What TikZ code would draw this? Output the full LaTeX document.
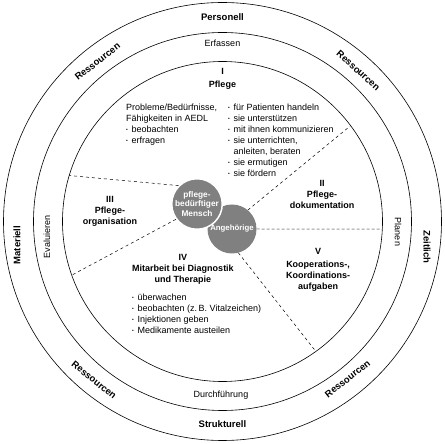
\documentclass[tikz,border=0pt]{standalone}
\usepackage{fontspec}
\setmainfont{Liberation Sans}
\usepackage{xcolor}
\usepackage{graphicx}
\usepackage{tikz}
\definecolor{persongray}{RGB}{128, 128, 128}
\definecolor{tiegray}{RGB}{155, 155, 155}
\newcommand{\itm}{\makebox[5.5pt][l]{\raisebox{0.6pt}{\scalebox{0.55}{\textbullet}}}}

\begin{document}
\begin{tikzpicture}[
    x=1pt, y=1pt,
    ring/.style={draw=black, line width=0.6pt},
    ringlabel/.style={font=\fontsize{9.5}{11}\selectfont\bfseries, inner sep=0pt},
    phase/.style={font=\fontsize{9}{11}\selectfont, inner sep=0pt},
    sector/.style={align=center, font=\fontsize{9}{11}\selectfont\bfseries, inner sep=0pt},
    items/.style={align=left, anchor=north west, inner sep=0pt,
                  font=\fontsize{9}{11}\selectfont},
    person/.style={circle, fill=persongray, minimum size=49pt, inner sep=0pt,
                   align=center, text=white, font=\fontsize{8.3}{9.5}\selectfont\bfseries},
    border/.style={dashed, line width=0.5pt},
    tie/.style={draw=tiegray, line width=1pt, dash pattern=on 3pt off 2pt}
]
\useasboundingbox (-222.5,-222.5) rectangle (221.5,221.5);

%% ── Rings ───────────────────────────────────────────────────────────────────
\draw[ring] (0,0) circle (219pt);
\draw[ring] (0,0) circle (189pt);
\draw[ring] (0,0) circle (160pt);

%% ── Outer ring: resources ───────────────────────────────────────────────────
\node[ringlabel] (personell)   at (0, 204.5) {Personell};
\node[ringlabel] (strukturell) at (0,-202.5) {Strukturell};
\node[ringlabel, rotate=90]  (materiell) at (-205.5,-23.5) {Materiell};
\node[ringlabel, rotate=-90] (zeitlich)  at (204.5,-25.5)  {Zeitlich};
\node[ringlabel, rotate=38]  (resTL) at (128:203pt)   {Ressourcen};
\node[ringlabel, rotate=-42] (resTR) at (48:203pt)    {Ressourcen};
\node[ringlabel, rotate=-39] (resBL) at (231:204pt)   {Ressourcen};
\node[ringlabel, rotate=38]  (resBR) at (-51.5:201pt) {Ressourcen};

%% ── Middle ring: process ────────────────────────────────────────────────────
\node[phase] (erfassen)     at (0, 178.5)  {Erfassen};
\node[phase] (durchfuehrung) at (-1.5,-173.5) {Durchführung};
\node[phase, rotate=90]  (evaluieren) at (-175.5,-15.5) {Evaluieren};
\node[phase, rotate=-90] (planen)     at (175.5,-10.5)  {Planen};

%% ── Centre: patient and relatives ───────────────────────────────────────────
\node[person, font=\fontsize{7.8}{9.5}\selectfont\bfseries] (angehoerige) at (9.5,-7.5) {Angehörige};
\node[person, draw=white, line width=1.5pt] (mensch) at (-25.5,17.5) {pflege-\\bedürftiger\\Mensch};

%% ── Sector borders ──────────────────────────────────────────────────────────
\coordinate (e1) at (163.3:160pt);
\coordinate (e2) at (199.6:160pt);
\coordinate (e3) at (36.8:160pt);
\coordinate (e4) at (-2.7:160pt);
\coordinate (e5) at (-54.3:160pt);
\draw[border] (mensch.135)      -- (e1);
\draw[border] (mensch.216)      -- (e2);
\draw[border] (angehoerige.50)  -- (e3);
\draw[tie]    (angehoerige.east) -- (e4);
\draw[border] (angehoerige.-75) -- (e5);

%% ── I Pflege ────────────────────────────────────────────────────────────────
\node[sector] (pflege) at (0,143) {I\\[2pt]Pflege};
\node[items] (erheben) at (-96.5,118) {Probleme/Bedürfnisse,\\Fähigkeiten in AEDL\\
    \itm beobachten\\\itm erfragen};
\node[items] (handeln) at (5.5,118) {\itm für Patienten handeln\\\itm sie unterstützen\\
    \itm mit ihnen kommunizieren\\\itm sie unterrichten,\\\hspace*{5.5pt}anleiten, beraten\\
    \itm sie ermutigen\\\itm sie fördern};

%% ── II, III, V ──────────────────────────────────────────────────────────────
\node[sector] (doku)   at (99.5,27)     {II\\Pflege-\\dokumentation};
\node[sector] (orga)   at (-112.5,10.5) {III\\Pflege-\\organisation};
\node[sector] (koop)   at (95.5,-48)    {V\\[2pt]Kooperations-,\\Koordinations-\\aufgaben};

%% ── IV Mitarbeit ────────────────────────────────────────────────────────────
\node[sector] (mitarbeit) at (-39.5,-48) {IV\\Mitarbeit bei Diagnostik\\und Therapie};
\node[items] (aufgaben) at (-90.5,-72) {\itm überwachen\\\itm beobachten (z.\,B. Vitalzeichen)\\
    \itm Injektionen geben\\\itm Medikamente austeilen};

\end{tikzpicture}
\end{document}
